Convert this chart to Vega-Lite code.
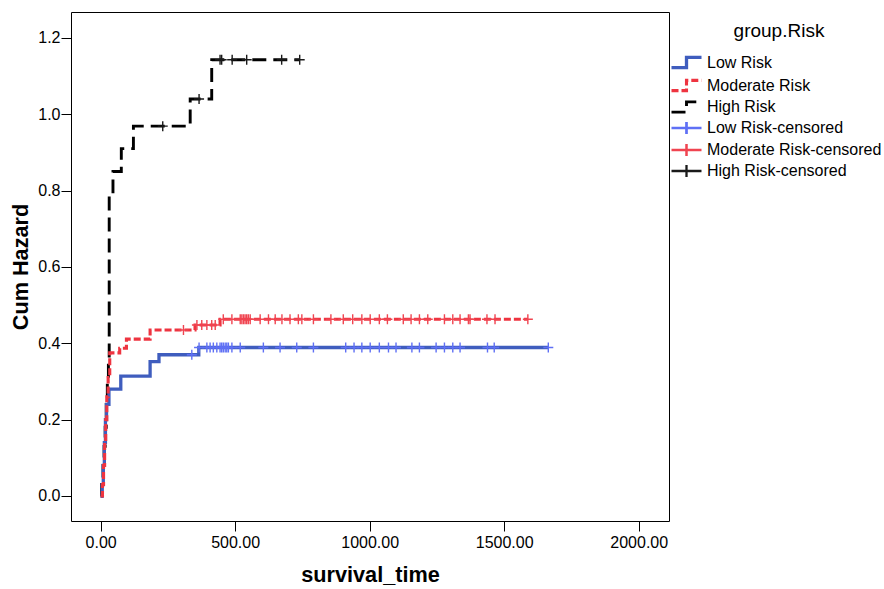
{
  "$schema": "https://vega.github.io/schema/vega-lite/v6.json",
  "width": 598,
  "height": 509,
  "padding": {"left": 10, "top": 12, "right": 0, "bottom": 0},
  "config": {
    "font": "Liberation Sans",
    "view": {"stroke": "black", "strokeWidth": 1},
    "axis": {
      "grid": false,
      "domain": false,
      "tickColor": "black",
      "tickSize": 10,
      "labelColor": "black",
      "labelFontSize": 16,
      "labelFont": "Liberation Sans",
      "titleFont": "Liberation Sans",
      "titleFontSize": 21.7,
      "titleFontWeight": "bold",
      "titleColor": "black"
    },
    "legend": {
      "orient": "right",
      "offset": -3,
      "padding": 10,
      "titleFontSize": 19,
      "titleFontWeight": "normal",
      "titleColor": "black",
      "titleFont": "Liberation Sans",
      "titleAnchor": "middle",
      "titlePadding": 11,
      "labelFontSize": 16,
      "labelColor": "black",
      "labelFont": "Liberation Sans",
      "labelOffset": 10,
      "rowPadding": -4.8,
      "symbolSize": 289,
      "symbolOpacity": 1,
      "symbolFillColor": "transparent",
      "labelLimit": 300
    }
  },
  "datasets": {
    "lines": [
      {"group": "High Risk", "time": 0, "hazard": 0},
      {"group": "High Risk", "time": 4, "hazard": 0.04},
      {"group": "High Risk", "time": 9, "hazard": 0.08},
      {"group": "High Risk", "time": 13, "hazard": 0.13},
      {"group": "High Risk", "time": 17, "hazard": 0.18},
      {"group": "High Risk", "time": 21, "hazard": 0.24},
      {"group": "High Risk", "time": 25, "hazard": 0.3},
      {"group": "High Risk", "time": 29, "hazard": 0.36},
      {"group": "High Risk", "time": 32, "hazard": 0.79},
      {"group": "High Risk", "time": 46, "hazard": 0.85},
      {"group": "High Risk", "time": 77, "hazard": 0.91},
      {"group": "High Risk", "time": 122, "hazard": 0.969},
      {"group": "High Risk", "time": 333, "hazard": 1.04},
      {"group": "High Risk", "time": 413, "hazard": 1.143},
      {"group": "High Risk", "time": 740, "hazard": 1.143},
      {"group": "Low  Risk", "time": 0, "hazard": 0},
      {"group": "Low  Risk", "time": 6, "hazard": 0.03},
      {"group": "Low  Risk", "time": 10, "hazard": 0.08},
      {"group": "Low  Risk", "time": 14, "hazard": 0.14},
      {"group": "Low  Risk", "time": 18, "hazard": 0.2},
      {"group": "Low  Risk", "time": 22, "hazard": 0.24},
      {"group": "Low  Risk", "time": 31, "hazard": 0.28},
      {"group": "Low  Risk", "time": 75, "hazard": 0.314},
      {"group": "Low  Risk", "time": 184, "hazard": 0.352},
      {"group": "Low  Risk", "time": 217, "hazard": 0.37},
      {"group": "Low  Risk", "time": 365, "hazard": 0.389},
      {"group": "Low  Risk", "time": 1664, "hazard": 0.389},
      {"group": "Moderate Risk", "time": 0, "hazard": 0},
      {"group": "Moderate Risk", "time": 7, "hazard": 0.03},
      {"group": "Moderate Risk", "time": 11, "hazard": 0.08},
      {"group": "Moderate Risk", "time": 15, "hazard": 0.14},
      {"group": "Moderate Risk", "time": 19, "hazard": 0.2},
      {"group": "Moderate Risk", "time": 23, "hazard": 0.26},
      {"group": "Moderate Risk", "time": 28, "hazard": 0.31},
      {"group": "Moderate Risk", "time": 34, "hazard": 0.375},
      {"group": "Moderate Risk", "time": 71, "hazard": 0.387},
      {"group": "Moderate Risk", "time": 96, "hazard": 0.411},
      {"group": "Moderate Risk", "time": 184, "hazard": 0.435},
      {"group": "Moderate Risk", "time": 351, "hazard": 0.448},
      {"group": "Moderate Risk", "time": 444, "hazard": 0.463},
      {"group": "Moderate Risk", "time": 1588, "hazard": 0.463}
    ],
    "censored": [
      {"group": "High Risk-censored", "time": 231, "hazard": 0.969},
      {"group": "High Risk-censored", "time": 366, "hazard": 1.04},
      {"group": "High Risk-censored", "time": 444, "hazard": 1.143},
      {"group": "High Risk-censored", "time": 450, "hazard": 1.143},
      {"group": "High Risk-censored", "time": 489, "hazard": 1.143},
      {"group": "High Risk-censored", "time": 543, "hazard": 1.143},
      {"group": "High Risk-censored", "time": 673, "hazard": 1.143},
      {"group": "High Risk-censored", "time": 740, "hazard": 1.143},
      {"group": "Low  Risk-censored", "time": 339, "hazard": 0.37},
      {"group": "Low  Risk-censored", "time": 366, "hazard": 0.389},
      {"group": "Low  Risk-censored", "time": 395, "hazard": 0.389},
      {"group": "Low  Risk-censored", "time": 407, "hazard": 0.389},
      {"group": "Low  Risk-censored", "time": 419, "hazard": 0.389},
      {"group": "Low  Risk-censored", "time": 432, "hazard": 0.389},
      {"group": "Low  Risk-censored", "time": 444, "hazard": 0.389},
      {"group": "Low  Risk-censored", "time": 450, "hazard": 0.389},
      {"group": "Low  Risk-censored", "time": 456, "hazard": 0.389},
      {"group": "Low  Risk-censored", "time": 463, "hazard": 0.389},
      {"group": "Low  Risk-censored", "time": 469, "hazard": 0.389},
      {"group": "Low  Risk-censored", "time": 475, "hazard": 0.389},
      {"group": "Low  Risk-censored", "time": 488, "hazard": 0.389},
      {"group": "Low  Risk-censored", "time": 519, "hazard": 0.389},
      {"group": "Low  Risk-censored", "time": 605, "hazard": 0.389},
      {"group": "Low  Risk-censored", "time": 667, "hazard": 0.389},
      {"group": "Low  Risk-censored", "time": 729, "hazard": 0.389},
      {"group": "Low  Risk-censored", "time": 791, "hazard": 0.389},
      {"group": "Low  Risk-censored", "time": 911, "hazard": 0.389},
      {"group": "Low  Risk-censored", "time": 942, "hazard": 0.389},
      {"group": "Low  Risk-censored", "time": 971, "hazard": 0.389},
      {"group": "Low  Risk-censored", "time": 1002, "hazard": 0.389},
      {"group": "Low  Risk-censored", "time": 1036, "hazard": 0.389},
      {"group": "Low  Risk-censored", "time": 1070, "hazard": 0.389},
      {"group": "Low  Risk-censored", "time": 1098, "hazard": 0.389},
      {"group": "Low  Risk-censored", "time": 1157, "hazard": 0.389},
      {"group": "Low  Risk-censored", "time": 1185, "hazard": 0.389},
      {"group": "Low  Risk-censored", "time": 1247, "hazard": 0.389},
      {"group": "Low  Risk-censored", "time": 1278, "hazard": 0.389},
      {"group": "Low  Risk-censored", "time": 1309, "hazard": 0.389},
      {"group": "Low  Risk-censored", "time": 1336, "hazard": 0.389},
      {"group": "Low  Risk-censored", "time": 1438, "hazard": 0.389},
      {"group": "Low  Risk-censored", "time": 1463, "hazard": 0.389},
      {"group": "Low  Risk-censored", "time": 1664, "hazard": 0.389},
      {"group": "Moderate Risk-censored", "time": 308, "hazard": 0.435},
      {"group": "Moderate Risk-censored", "time": 358, "hazard": 0.448},
      {"group": "Moderate Risk-censored", "time": 376, "hazard": 0.448},
      {"group": "Moderate Risk-censored", "time": 395, "hazard": 0.448},
      {"group": "Moderate Risk-censored", "time": 413, "hazard": 0.448},
      {"group": "Moderate Risk-censored", "time": 426, "hazard": 0.448},
      {"group": "Moderate Risk-censored", "time": 456, "hazard": 0.463},
      {"group": "Moderate Risk-censored", "time": 488, "hazard": 0.463},
      {"group": "Moderate Risk-censored", "time": 519, "hazard": 0.463},
      {"group": "Moderate Risk-censored", "time": 525, "hazard": 0.463},
      {"group": "Moderate Risk-censored", "time": 531, "hazard": 0.463},
      {"group": "Moderate Risk-censored", "time": 537, "hazard": 0.463},
      {"group": "Moderate Risk-censored", "time": 543, "hazard": 0.463},
      {"group": "Moderate Risk-censored", "time": 549, "hazard": 0.463},
      {"group": "Moderate Risk-censored", "time": 556, "hazard": 0.463},
      {"group": "Moderate Risk-censored", "time": 593, "hazard": 0.463},
      {"group": "Moderate Risk-censored", "time": 624, "hazard": 0.463},
      {"group": "Moderate Risk-censored", "time": 649, "hazard": 0.463},
      {"group": "Moderate Risk-censored", "time": 674, "hazard": 0.463},
      {"group": "Moderate Risk-censored", "time": 704, "hazard": 0.463},
      {"group": "Moderate Risk-censored", "time": 735, "hazard": 0.463},
      {"group": "Moderate Risk-censored", "time": 748, "hazard": 0.463},
      {"group": "Moderate Risk-censored", "time": 791, "hazard": 0.463},
      {"group": "Moderate Risk-censored", "time": 856, "hazard": 0.463},
      {"group": "Moderate Risk-censored", "time": 902, "hazard": 0.463},
      {"group": "Moderate Risk-censored", "time": 937, "hazard": 0.463},
      {"group": "Moderate Risk-censored", "time": 971, "hazard": 0.463},
      {"group": "Moderate Risk-censored", "time": 1002, "hazard": 0.463},
      {"group": "Moderate Risk-censored", "time": 1036, "hazard": 0.463},
      {"group": "Moderate Risk-censored", "time": 1066, "hazard": 0.463},
      {"group": "Moderate Risk-censored", "time": 1125, "hazard": 0.463},
      {"group": "Moderate Risk-censored", "time": 1154, "hazard": 0.463},
      {"group": "Moderate Risk-censored", "time": 1185, "hazard": 0.463},
      {"group": "Moderate Risk-censored", "time": 1216, "hazard": 0.463},
      {"group": "Moderate Risk-censored", "time": 1278, "hazard": 0.463},
      {"group": "Moderate Risk-censored", "time": 1309, "hazard": 0.463},
      {"group": "Moderate Risk-censored", "time": 1336, "hazard": 0.463},
      {"group": "Moderate Risk-censored", "time": 1367, "hazard": 0.463},
      {"group": "Moderate Risk-censored", "time": 1373, "hazard": 0.463},
      {"group": "Moderate Risk-censored", "time": 1436, "hazard": 0.463},
      {"group": "Moderate Risk-censored", "time": 1466, "hazard": 0.463},
      {"group": "Moderate Risk-censored", "time": 1588, "hazard": 0.463}
    ]
  },
  "encoding": {
    "x": {
      "field": "time",
      "type": "quantitative",
      "title": "survival_time",
      "scale": {"domain": [-110, 2112.6], "nice": false, "zero": false},
      "axis": {"values": [0, 500, 1000, 1500, 2000], "format": ".2f", "labelPadding": 3, "titlePadding": 14}
    },
    "y": {
      "field": "hazard",
      "type": "quantitative",
      "title": "Cum Hazard",
      "scale": {"domain": [-0.0655, 1.268], "nice": false, "zero": false},
      "axis": {"values": [0, 0.2, 0.4, 0.6, 0.8, 1.0, 1.2], "format": ".1f", "labelPadding": 1, "titlePadding": 5}
    },
    "color": {
      "field": "group",
      "type": "nominal",
      "title": "group.Risk",
      "scale": {
        "domain": ["Low  Risk", "Moderate Risk", "High Risk", "Low  Risk-censored", "Moderate Risk-censored", "High Risk-censored"],
        "range": ["#3F5DBE", "#EE3440", "#000000", "#5F70F5", "#F04450", "#1A1A1A"]
      }
    }
  },
  "layer": [
    {
      "data": {"name": "lines"},
      "mark": {"type": "line", "interpolate": "step-after"},
      "encoding": {
        "strokeDash": {
          "field": "group",
          "type": "nominal",
          "title": "group.Risk",
          "scale": {
            "domain": ["Low  Risk", "Moderate Risk", "High Risk", "Low  Risk-censored", "Moderate Risk-censored", "High Risk-censored"],
            "range": [[1, 0], [7, 3], [14, 7], [1, 0], [1, 0], [1, 0]]
          }
        },
        "strokeWidth": {
          "field": "group",
          "type": "nominal",
          "title": "group.Risk",
          "scale": {
            "domain": ["Low  Risk", "Moderate Risk", "High Risk", "Low  Risk-censored", "Moderate Risk-censored", "High Risk-censored"],
            "range": [3.3, 2.3, 4, 1.4, 1.4, 1.4]
          }
        }
      }
    },
    {
      "data": {"name": "censored"},
      "mark": {"type": "point", "filled": false, "shape": "M-1,0H1M0,-1V1", "size": 100, "strokeWidth": 1.4, "opacity": 1}
    },
    {
      "data": {"name": "censored"},
      "mark": {"type": "point", "filled": false, "opacity": 0, "size": 100},
      "encoding": {
        "shape": {
          "field": "group",
          "type": "nominal",
          "title": "group.Risk",
          "scale": {
            "domain": ["Low  Risk", "Moderate Risk", "High Risk", "Low  Risk-censored", "Moderate Risk-censored", "High Risk-censored"],
            "range": ["M-1.765,0.6H0V-0.6H1.765", "M-1.765,0.6H0V-0.6H1.765", "M-1.765,0.6H0V-0.6H1.765", "M-1.765,0H1.765M0,-0.7V0.7", "M-1.765,0H1.765M0,-0.7V0.7", "M-1.765,0H1.765M0,-0.7V0.7"]
          }
        }
      }
    }
  ]
}
